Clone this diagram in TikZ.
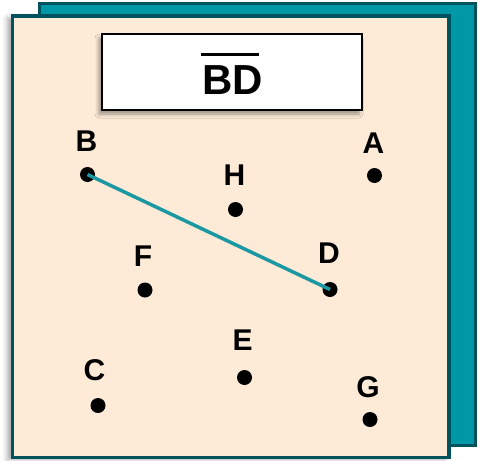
\documentclass[tikz,border=0pt]{standalone}
\usepackage{fontspec}
\setmainfont{Liberation Sans}
\usetikzlibrary{shadows.blur}
\definecolor{tealback}{HTML}{0097A7}
\definecolor{tealdark}{HTML}{00525C}
\definecolor{beige}{HTML}{FDEBD7}
\definecolor{segline}{HTML}{1B98A2}
\tikzset{
  pt/.style={circle,fill=black,inner sep=0pt,minimum size=15pt},
  lbl/.style={inner sep=0pt,font=\fontsize{30}{34}\selectfont\bfseries},
}
\begin{document}
\begin{tikzpicture}[x=1pt,y=-1pt]
\useasboundingbox (0,0) rectangle (478,460);
% back sheet
\draw[fill=tealback,draw=tealdark,line width=3pt] (39,3.5) rectangle (475.5,445.5);
% front sheet
\draw[fill=beige,draw=tealdark,line width=3.5pt,
  blur shadow={shadow xshift=-5pt,shadow yshift=-2pt,shadow opacity=35,shadow blur radius=5pt}]
  (12.5,16) rectangle (449,457.5);
% title box
\node[draw=black,fill=white,line width=1.5pt,minimum width=260pt,minimum height=76pt,inner sep=0pt,
  blur shadow={shadow xshift=-3pt,shadow yshift=-4pt,shadow opacity=40,shadow blur radius=4pt}]
  (title) at (232,72) {};
\node[inner sep=0pt,font=\fontsize{42}{48}\selectfont\bfseries] (bd) at (232.5,80) {BD};
\draw[line width=3pt] ([xshift=-1pt,yshift=11pt]bd.north west) -- ([xshift=-4pt,yshift=11pt]bd.north east);
% points
\node[pt] (B) at (87.5,174.5) {};
\node[pt] (H) at (235.5,209.5) {};
\node[pt] (F) at (145,290) {};
\node[pt] (D) at (330,289.5) {};
\node[pt] (A) at (374.5,175.5) {};
\node[pt] (C) at (98,405.5) {};
\node[pt] (E) at (244.5,377.5) {};
\node[pt] (G) at (370,419.5) {};
% labels
\node[lbl] (lB) at (86.5,141) {B};
\node[lbl] (lH) at (234.5,175.5) {H};
\node[lbl] (lF) at (143,256) {F};
\node[lbl] (lD) at (329,253.5) {D};
\node[lbl] (lA) at (373.5,143) {A};
\node[lbl] (lC) at (94.5,370.5) {C};
\node[lbl] (lE) at (242.5,340) {E};
\node[lbl] (lG) at (368,387) {G};
% segment
\draw[segline,line width=3.5pt] (B.center) -- (D.center);
\end{tikzpicture}
\end{document}
